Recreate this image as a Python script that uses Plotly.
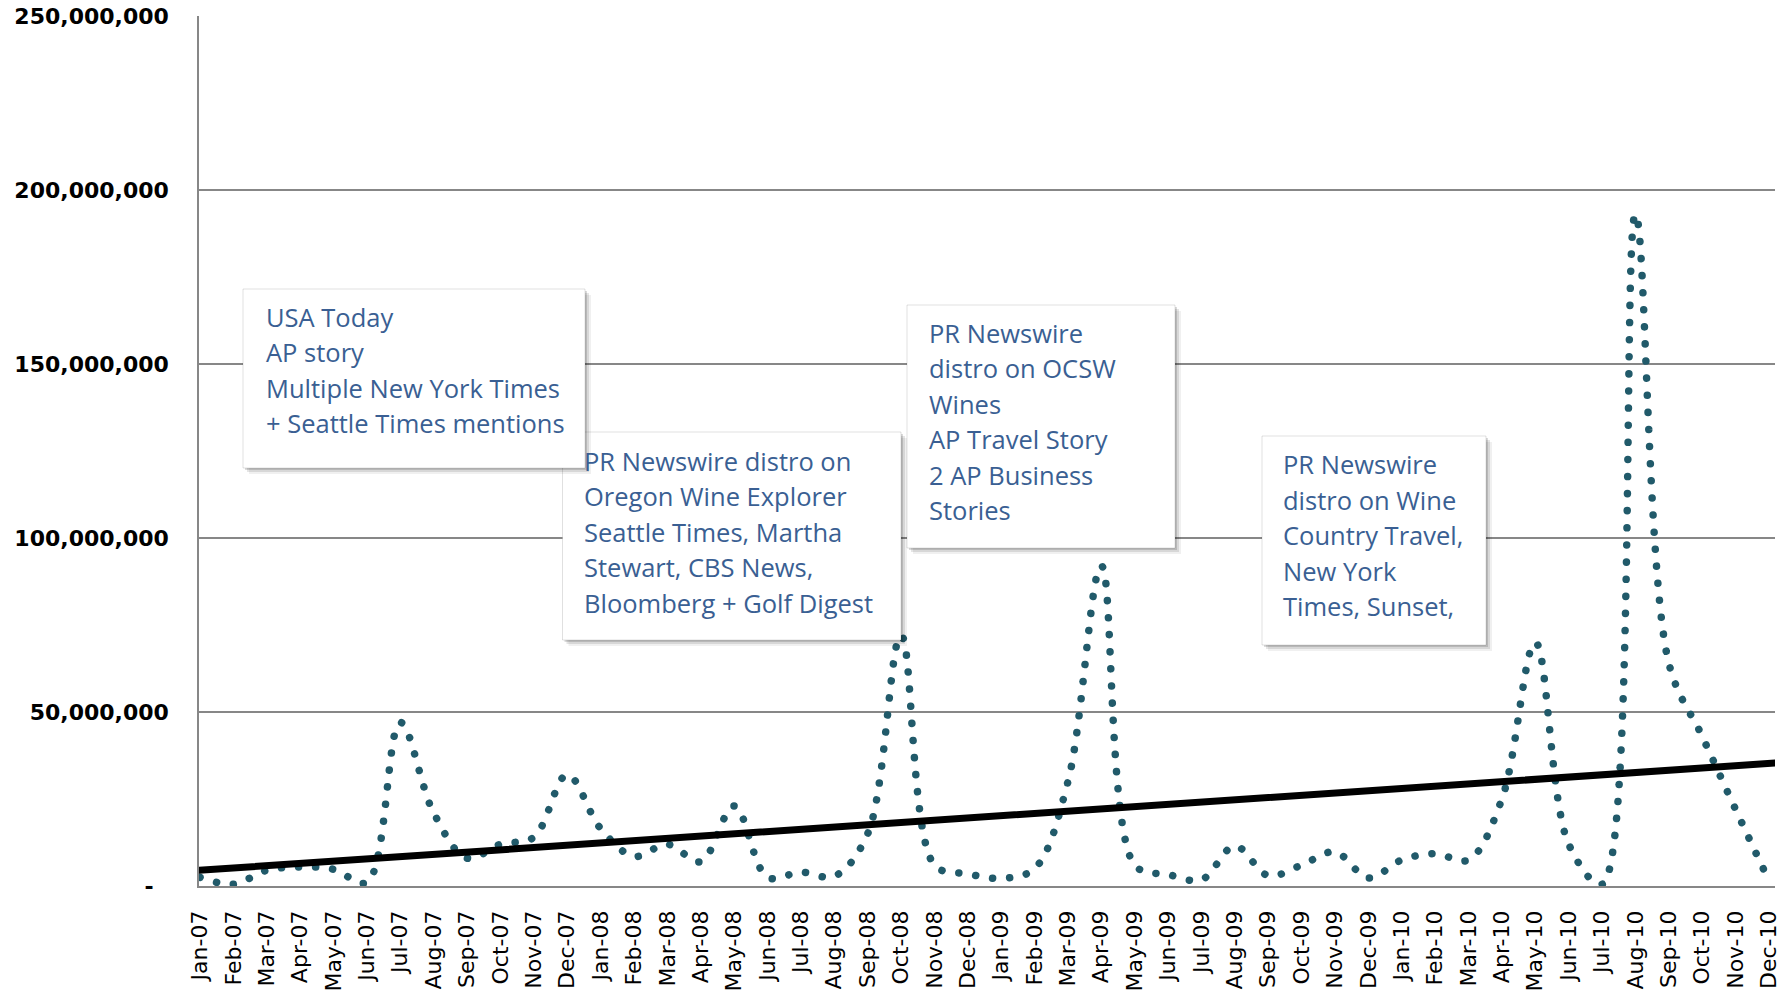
import numpy as np
import plotly.graph_objects as go

# ---------------- data ----------------
months = ["Jan-07", "Feb-07", "Mar-07", "Apr-07", "May-07", "Jun-07", "Jul-07", "Aug-07",
          "Sep-07", "Oct-07", "Nov-07", "Dec-07",
          "Jan-08", "Feb-08", "Mar-08", "Apr-08", "May-08", "Jun-08", "Jul-08", "Aug-08",
          "Sep-08", "Oct-08", "Nov-08", "Dec-08",
          "Jan-09", "Feb-09", "Mar-09", "Apr-09", "May-09", "Jun-09", "Jul-09", "Aug-09",
          "Sep-09", "Oct-09", "Nov-09", "Dec-09",
          "Jan-10", "Feb-10", "Mar-10", "Apr-10", "May-10", "Jun-10", "Jul-10", "Aug-10",
          "Sep-10", "Oct-10", "Nov-10", "Dec-10"]

views_2007 = [2_500_000, 500_000, 4_500_000, 5_500_000, 4_800_000, 1_000_000,
              47_000_000, 21_000_000, 8_000_000, 12_000_000, 14_000_000, 32_000_000]
views_2008 = [16_500_000, 8_500_000, 12_000_000, 7_000_000, 23_000_000, 2_500_000,
              4_000_000, 2_800_000, 15_000_000, 72_000_000, 6_000_000, 3_500_000]
views_2009 = [2_200_000, 5_000_000, 30_000_000, 92_000_000, 6_000_000, 3_300_000,
              1_800_000, 11_500_000, 3_000_000, 6_000_000, 9_800_000, 2_300_000]
views_2010 = [7_500_000, 9_300_000, 7_500_000, 25_000_000, 70_000_000, 12_000_000,
              500_000, 193_000_000, 64_000_000, 43_000_000, 22_000_000, 1_500_000]
views = views_2007 + views_2008 + views_2009 + views_2010

y_tickvals = [0, 50_000_000, 100_000_000, 150_000_000, 200_000_000, 250_000_000]
y_ticktext = ["-\u2007", "50,000,000", "100,000,000", "150,000,000", "200,000,000", "250,000,000"]

notes = [
    ["PR Newswire distro on", "Oregon Wine Explorer", "Seattle Times, Martha",
     "Stewart, CBS News,", "Bloomberg + Golf Digest"],
    ["USA Today", "AP story", "Multiple New York Times", "+ Seattle Times mentions"],
    ["PR Newswire", "distro on OCSW", "Wines", "AP Travel Story", "2 AP Business", "Stories"],
    ["PR Newswire", "distro on Wine", "Country Travel,", "New York", "Times, Sunset,"],
]

# ---------------- layout geometry (pixels) ----------------
W, H = 1789, 999
PL, PR, PT, PB = 199, 1775, 16, 886
X_RANGE = [-0.03, 47.18]

def px(x):
    return (x - PL) / (PR - PL)

def py(y):
    return (PB - y) / (PB - PT)

# box rectangles (x0, y0, x1, y1) and text start (x, first line y)
boxes = [
    dict(rect=(562.5, 432, 901, 640), tx=582, ty=461),
    dict(rect=(243, 289, 585, 468), tx=263.5, ty=317),
    dict(rect=(907, 305, 1175, 548), tx=926.5, ty=333),
    dict(rect=(1262, 436, 1486, 645), tx=1281, ty=464.4),
]
LINE_GAP = 35.4

x_idx = np.arange(len(months))
coef = np.polyfit(x_idx, np.array(views, dtype=float), 1)
trend_x = np.array(X_RANGE)
trend_y = np.polyval(coef, trend_x)

fig = go.Figure()
fig.add_trace(go.Scatter(
    x=x_idx, y=views, mode="lines",
    line=dict(color="#215a6a", width=7.5, dash="0.1px,17px", shape="spline", smoothing=1),
    hoverinfo="skip", showlegend=False,
))
fig.add_trace(go.Scatter(
    x=trend_x, y=trend_y, mode="lines",
    line=dict(color="black", width=7),
    hoverinfo="skip", showlegend=False,
))

shapes = []
annotations = []
for b, lines in zip(boxes, notes):
    x0, y0, x1, y1 = b["rect"]
    for off, alpha in ((6, 0.06), (4, 0.10), (2, 0.14)):
        shapes.append(dict(type="rect", xref="paper", yref="paper",
                           x0=px(x0 + off), x1=px(x1 + off), y0=py(y1 + off), y1=py(y0 + off),
                           line=dict(width=0), fillcolor=f"rgba(0,0,0,{alpha})", layer="above"))
    shapes.append(dict(type="rect", xref="paper", yref="paper",
                       x0=px(x0), x1=px(x1), y0=py(y1), y1=py(y0),
                       line=dict(width=1, color="rgba(0,0,0,0.12)"), fillcolor="white", layer="above"))
    for k, t in enumerate(lines):
        annotations.append(dict(
            text=t, xref="paper", yref="paper", x=px(b["tx"]), y=py(b["ty"] + k * LINE_GAP),
            xanchor="left", yanchor="middle", showarrow=False,
            font=dict(family="Open Sans", size=25.5, color="#3a5f93"),
        ))

fig.update_layout(
    width=W, height=H,
    margin=dict(l=PL, r=W - PR, t=PT, b=H - PB, pad=0),
    paper_bgcolor="white", plot_bgcolor="white",
    shapes=shapes, annotations=annotations,
    showlegend=False,
)
fig.update_xaxes(
    range=X_RANGE, tickmode="array", tickvals=list(x_idx), ticktext=months,
    tickangle=-90, showgrid=False, zeroline=False, automargin=False,
    showline=True, linecolor="#878787", linewidth=1.5,
    ticks="", ticklabelstandoff=14,
    tickfont=dict(family="DejaVu Sans", size=22, color="black"),
)
fig.update_yaxes(
    range=[0, 250_000_000], tickmode="array", tickvals=y_tickvals, ticktext=y_ticktext,
    showgrid=True, gridcolor="#878787", gridwidth=1.5, zeroline=False, automargin=False,
    showline=True, linecolor="#878787", linewidth=1.5,
    ticks="", ticklabelstandoff=24,
    tickfont=dict(family="DejaVu Sans", size=22, color="black", weight="bold"),
)

post = ("var s=document.createElement('style');"
        "s.innerHTML='html,body{margin:0;padding:0;overflow:hidden;}"
        ".scatterlayer .js-line{stroke-linecap:round !important;}';"
        "document.head.appendChild(s);")
fig.write_html("out.html", post_script=post, config={"displayModeBar": False})
